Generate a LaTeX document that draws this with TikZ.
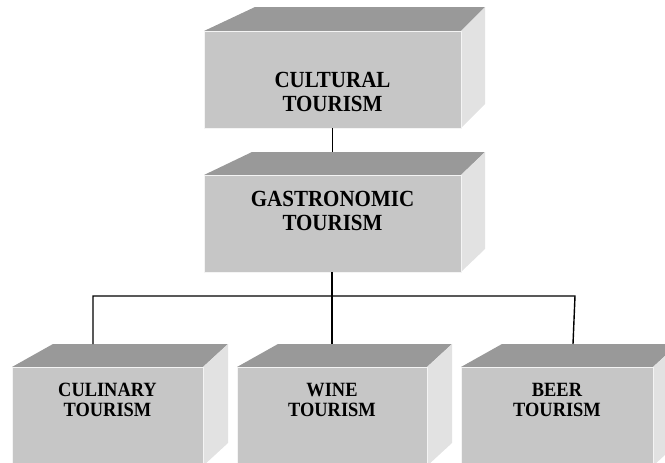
\documentclass[tikz,border=0pt]{standalone}
\usepackage{fontspec}
\setmainfont{Liberation Serif}
\usetikzlibrary{positioning}

\definecolor{frontgray}{HTML}{C6C6C6}
\definecolor{topgray}{HTML}{999999}
\definecolor{sidegray}{HTML}{E2E2E2}

\tikzset{
  front/.style={fill=frontgray, draw=white!80!frontgray, line width=0.8pt, inner sep=0pt, outer sep=0pt},
  link/.style={line width=1.4pt},
  biglabel/.style={font=\bfseries\fontsize{21}{21}\selectfont, align=center, transform shape, yscale=1.1},
  smalllabel/.style={font=\bfseries\fontsize{18.4}{18.2}\selectfont, align=center, transform shape, yscale=1.1}
}

% name, left, top, right, bottom, left depth, right depth, height of top face
\newcommand{\tourbox}[8]{%
  \fill[topgray] (#2,#3) -- ++(#6,-#8) -- ({#4+#7},{#3-#8}) -- (#4,#3) -- cycle;
  \fill[sidegray] (#4,#3) -- ({#4+#7},{#3-#8}) -- ({#4+#7},{#5-#8}) -- (#4,#5) -- cycle;
  \node[front, minimum width={#4pt-#2pt}, minimum height={#5pt-#3pt}] (#1) at ({(#2+#4)/2},{(#3+#5)/2}) {};
  \coordinate (#1-back) at ({(#2+#4)/2},{#3-#8});
}

\begin{document}
\begin{tikzpicture}[x=1pt,y=-1pt]
    \clip (0,0) rectangle (665,463);

    % boxes
    \tourbox{cult}{204}{31}{461}{128}{51}{24}{24}
    \tourbox{gastro}{204}{175}{461}{272}{48}{24}{23}
    \tourbox{culin}{12}{367}{203}{466}{41}{25}{23}
    \tourbox{wine}{237}{367}{427}{466}{41}{25}{23}
    \tourbox{beer}{461}{367}{653}{466}{41}{25}{23}

    % texts
    \node[biglabel] (cultlabel) at (332.5,92) {CULTURAL\\TOURISM};
    \node[biglabel] (gastrolabel) at (332.5,211) {GASTRONOMIC\\TOURISM};
    \node[smalllabel] (culinlabel) at (107.5,400) {CULINARY\\TOURISM};
    \node[smalllabel] (winelabel) at (332,400) {WINE\\TOURISM};
    \node[smalllabel] (beerlabel) at (557,400) {BEER\\TOURISM};

    % connectors
    \coordinate (busl) at (93,296);
    \coordinate (busr) at (575,296);
    \coordinate (beertap) at (573,344);
    \draw[link] (cult.south -| cult-back) -- (gastro-back);
    \draw[link] (gastro.south -| wine-back) -- (wine-back);
    \draw[link] (busl |- culin-back) -- (busl) -- (busr) -- (beertap);
\end{tikzpicture}
\end{document}
